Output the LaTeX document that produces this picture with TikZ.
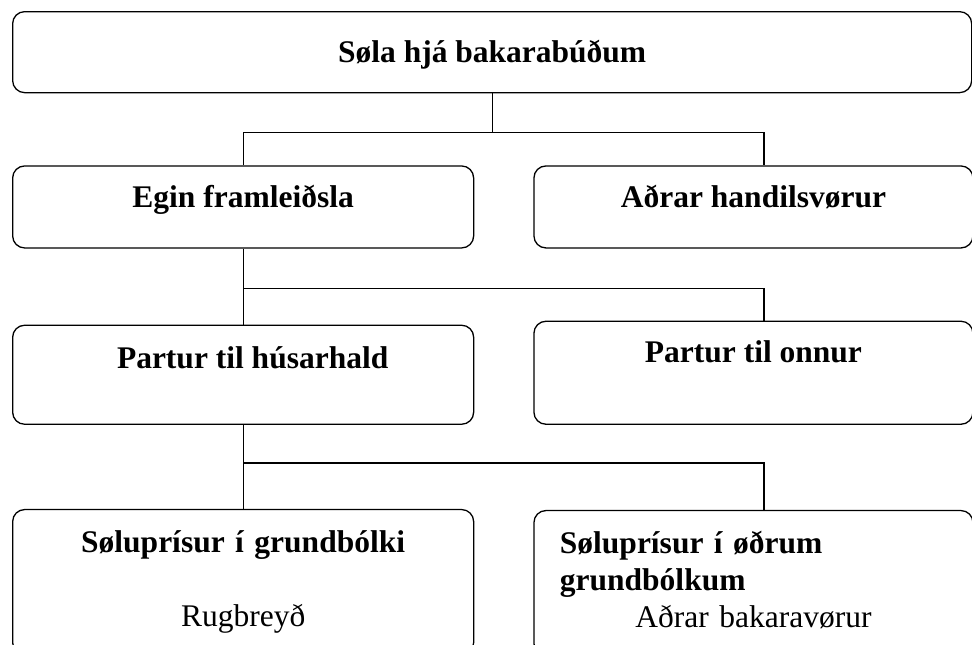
\documentclass[tikz,border=0pt]{standalone}
\usepackage{fontspec}
\setmainfont{Liberation Serif}
\usetikzlibrary{positioning}

\begin{document}
\begin{tikzpicture}[box/.style={rectangle, rounded corners=12pt, draw=black, line width=1.3pt, inner sep=0pt, text centered, text height=22pt, font=\fontsize{31.5}{37}\selectfont\bfseries}, link/.style={draw=black, line width=1.3pt}]
\useasboundingbox (0,0) rectangle (972pt,-645pt);
\clip (0,0) rectangle (972pt,-645pt);
\node (sola) [box, minimum width=959pt, minimum height=81pt, text depth=1pt, anchor=north west] at (12pt,-11pt) {Søla hjá bakarabúðum};
\node (egin) [box, minimum width=461pt, minimum height=82pt, text depth=20pt, below=72pt of sola.south west, anchor=north west] {Egin framleiðsla};
\node (adrar) [box, minimum width=439pt, minimum height=82pt, text depth=20pt, right=59pt of egin.north east, anchor=north west] {Aðrar handilsvørur};
\node (husar) [box, minimum width=461pt, minimum height=99pt, text depth=35pt, below=76pt of egin.south west, anchor=north west] {\hspace*{19pt}Partur til húsarhald};
\node (onnur) [box, minimum width=439pt, minimum height=103pt, text depth=43pt, below=72pt of adrar.south west, anchor=north west] {Partur til onnur};
\node (grund) [box, minimum width=461pt, minimum height=145pt, text width=461pt, text depth=81pt, align=center, below=84pt of husar.south west, anchor=north west] {Søluprísur í grundbólki\\[37pt]\mdseries Rugbreyð};
\node (odrum) [box, minimum width=439pt, minimum height=145pt, text width=439pt, text depth=81pt, align=center, below=85pt of onnur.south west, anchor=north west] {{\raggedright\leftskip=26pt Søluprísur í øðrum\\grundbólkum\par}\mdseries Aðrar bakaravørur};

\coordinate (j1) at ([yshift=-39pt]sola.south);
\coordinate (r1) at ([xshift=10.5pt]adrar.north);
\coordinate (j2) at ([yshift=-40pt]egin.south);
\coordinate (r2) at ([xshift=10.5pt]onnur.north);
\coordinate (j3) at ([yshift=-38pt]husar.south);
\coordinate (r3) at ([xshift=10.5pt]odrum.north);

\draw[link] (sola.south) -- (j1);
\draw[link] (egin.north) |- (r1 |- j1) -- (r1);
\draw[link] (egin.south) -- (husar.north);
\draw[link] (j2) -| (r2);
\draw[link] (husar.south) -- (grund.north);
\draw[link] (j3) -| (r3);
\end{tikzpicture}
\end{document}
